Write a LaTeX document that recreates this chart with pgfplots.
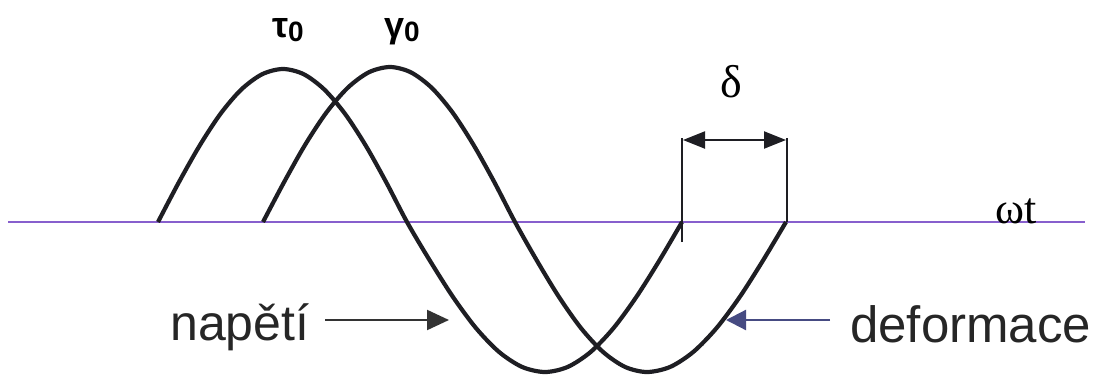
\documentclass[border=0pt]{standalone}
\usepackage{fontspec}
\setmainfont{Liberation Sans}
\newfontfamily\seriffont{Liberation Serif}
\usepackage{pgfplots}
\pgfplotsset{compat=1.18}
\usetikzlibrary{arrows.meta}
\definecolor{axisviolet}{RGB}{135,95,205}
\definecolor{curveblack}{RGB}{30,30,35}
\definecolor{arrowblue}{RGB}{70,75,130}
\begin{document}
\begin{tikzpicture}
\begin{axis}[
  scale only axis, width=1101pt, height=376pt,
  xmin=0, xmax=1101, ymin=0, ymax=376,
  hide axis, clip=false,
]
% time axis
\addplot[axisviolet, line width=2.2pt] coordinates {(8,154) (1085,154)};
% stress (napeti)
\addplot[curveblack, line width=4.2pt, smooth] coordinates {
(158,154)(178.8,193.6)(199.7,230.5)(220.5,262.2)(241.3,286.5)(262.2,301.8)(283,307)
(303.7,301.8)(324.3,286.5)(345,262.2)(365.7,230.5)(386.3,193.6)(407,154)
(430,115.2)(453,79)(476,47.9)(499,24.1)(522,9.1)(545,4)
(567.8,9.1)(590.7,24.1)(613.5,47.9)(636.3,79)(659.2,115.2)(682,154)};
% strain (deformace)
\addplot[curveblack, line width=4.2pt, smooth] coordinates {
(263,154)(284.2,194.1)(305.3,231.5)(326.5,263.6)(347.7,288.2)(368.8,303.7)(390,309)
(410.8,303.7)(431.7,288.2)(452.5,263.6)(473.3,231.5)(494.2,194.1)(515,154)
(537,115.2)(559,79)(581,47.9)(603,24.1)(625,9.1)(647,4)
(670.2,9.1)(693.3,24.1)(716.5,47.9)(739.7,79)(762.8,115.2)(786,154)};
% delta bracket
\draw[curveblack, line width=2.2pt] (axis cs:682,134) -- (axis cs:682,238);
\draw[curveblack, line width=2.2pt] (axis cs:787,154) -- (axis cs:787,238);
\draw[curveblack, line width=2.2pt, {Triangle[length=22pt,width=17pt]}-{Triangle[length=22pt,width=17pt]}]
  (axis cs:683,236) -- (axis cs:786,236);
\node[font=\seriffont\fontsize{46}{50}\selectfont, anchor=center] at (axis cs:731,294) {δ};
\node[font=\seriffont\fontsize{44}{46}\selectfont, anchor=base] at (axis cs:1016,153) {ωt};
% peak labels
\node[font=\bfseries\fontsize{36}{40}\selectfont, anchor=base] at (axis cs:288,339)
  {τ\raisebox{-4pt}{\fontsize{28}{30}\selectfont 0}};
\node[font=\bfseries\fontsize{36}{40}\selectfont, anchor=base] at (axis cs:402,339)
  {γ\raisebox{-4pt}{\fontsize{28}{30}\selectfont 0}};
% napeti label and arrow
\node[font=\fontsize{50}{54}\selectfont, anchor=base west, inner sep=0pt, text=black!85] at (axis cs:170,36) {napětí};
\draw[black!80, line width=2.2pt, -{Triangle[length=22pt,width=20pt]}] (axis cs:325,56) -- (axis cs:449,56);
% deformace label and arrow
\node[font=\fontsize{51}{54}\selectfont, anchor=base west, inner sep=0pt, text=black!85] at (axis cs:850,34) {deformace};
\draw[arrowblue, line width=2.2pt, -{Triangle[length=20pt,width=20pt]}] (axis cs:830,56) -- (axis cs:726,56);
\end{axis}
\pgfresetboundingbox
\path (current axis.south west) rectangle (current axis.north east);
\end{tikzpicture}
\end{document}
